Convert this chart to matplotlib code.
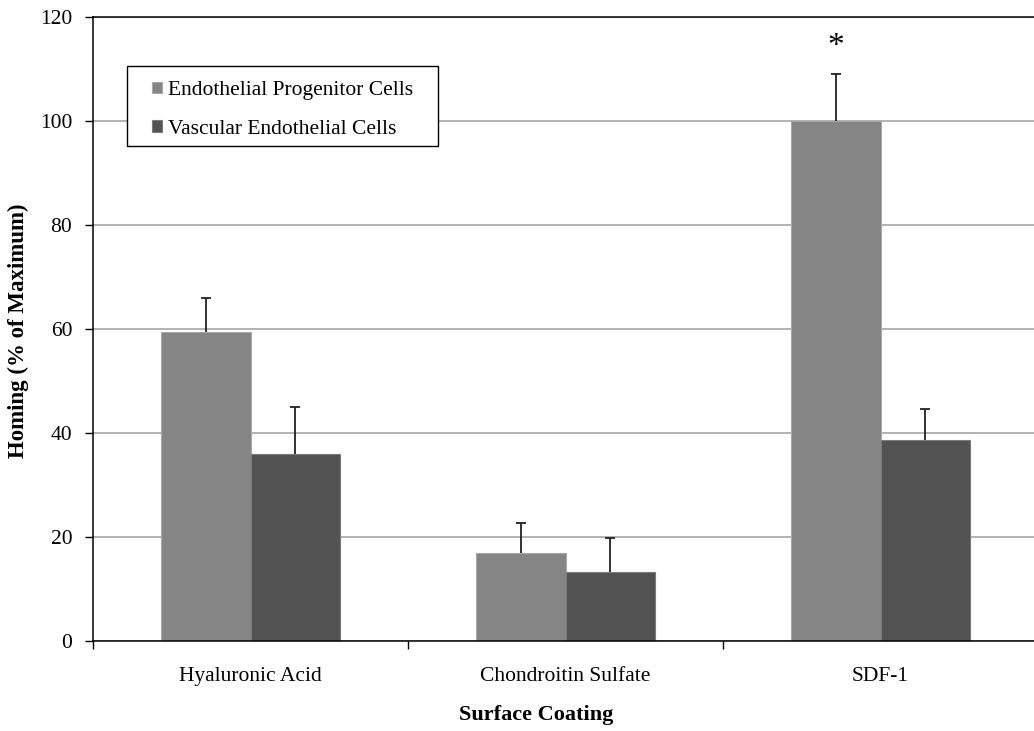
import matplotlib
matplotlib.use("Agg")
import matplotlib.pyplot as plt
from matplotlib.patches import Rectangle
import numpy as np

categories = ["Hyaluronic Acid", "Chondroitin Sulfate", "SDF-1"]
series_names = ["Endothelial Progenitor Cells", "Vascular Endothelial Cells"]
epc_values = [59.4, 16.9, 100.0]
epc_err = [6.6, 5.8, 9.0]
vec_values = [36.0, 13.3, 38.6]
vec_err = [9.0, 6.5, 6.0]
y_ticks = [0, 20, 40, 60, 80, 100, 120]

plt.rcParams['font.family'] = ['Liberation Serif', 'DejaVu Serif']

W, H = 1034, 731
fig = plt.figure(figsize=(W / 100, H / 100), dpi=100)
ax = fig.add_axes([93 / W, 90 / H, 945 / W, 624 / H])

x = np.arange(len(categories))
w = 0.283
epc_color = "#858585"
vec_color = "#525252"

ax.bar(x - w / 2, epc_values, w, color=epc_color, edgecolor="#a8a8a8", linewidth=0.8,
       label=series_names[0], zorder=2)
ax.bar(x + w / 2, vec_values, w, color=vec_color, edgecolor="#7a7a7a", linewidth=0.8,
       label=series_names[1], zorder=2)


def upper_errorbars(xs, vals, errs):
    _, caps, _ = ax.errorbar(xs, vals, yerr=[np.zeros(len(errs)), errs], fmt="none",
                             ecolor="#222222", elinewidth=1.3, capsize=3.5,
                             capthick=1.3, zorder=3)
    # hide the cap at the bottom end (zero-length lower error)
    caps[0].set_visible(False)


upper_errorbars(x - w / 2, epc_values, epc_err)
upper_errorbars(x + w / 2, vec_values, vec_err)

# significance marker above SDF-1 progenitor bar
ax.text(x[2] - w / 2, 114.3, "*", ha="center", va="center", fontsize=24)

ax.set_xlim(-0.5, 2.5)
ax.set_ylim(0, 120)
ax.set_yticks(y_ticks)
ax.set_yticklabels([str(t) for t in y_ticks], fontsize=15.5)
ax.yaxis.grid(True, color="#a6a6a6", linewidth=1.2, zorder=0)
ax.set_axisbelow(True)

ax.set_xticks([-0.5, 0.5, 1.5, 2.5])
ax.set_xticklabels([])
ax.set_xticks(x, minor=True)
ax.set_xticklabels(categories, minor=True, fontsize=15.5)
ax.tick_params(axis="x", which="minor", length=0, pad=19)
ax.tick_params(axis="x", which="major", direction="out", length=6, width=1)
ax.tick_params(axis="y", direction="out", length=6, width=1, pad=9)

for s in ["left", "bottom", "top"]:
    ax.spines[s].set_color("black")
    ax.spines[s].set_linewidth(1.1)
ax.spines["right"].set_visible(False)

ax.set_xlabel("Surface Coating", fontsize=16, fontweight="bold")
ax.xaxis.set_label_coords((536 - 93) / 945, (641 - 715) / 624)
ax.xaxis.label.set_verticalalignment("center")
ax.set_ylabel("Homing (% of Maximum)", fontsize=16.5, fontweight="bold")
ax.yaxis.set_label_coords((18 - 93) / 945, (641 - 331) / 624)
ax.yaxis.label.set_verticalalignment("center")

# legend box drawn as a plain rectangle, entries placed inside without frame
box = Rectangle((127 / W, 1 - 146 / H), (438 - 127) / W, (146 - 66) / H,
                transform=fig.transFigure, facecolor="white", edgecolor="black",
                linewidth=1.0, zorder=4, clip_on=False)
ax.add_patch(box)
leg = ax.legend(loc="upper left", bbox_to_anchor=(152 / W, 1 - 81 / H),
                bbox_transform=fig.transFigure, frameon=False, fontsize=15.5,
                handlelength=0.45, handleheight=0.45, handletextpad=0.3,
                borderpad=0, labelspacing=0.92, borderaxespad=0)
leg.set_zorder(5)

fig.savefig("out.png", dpi=100)
